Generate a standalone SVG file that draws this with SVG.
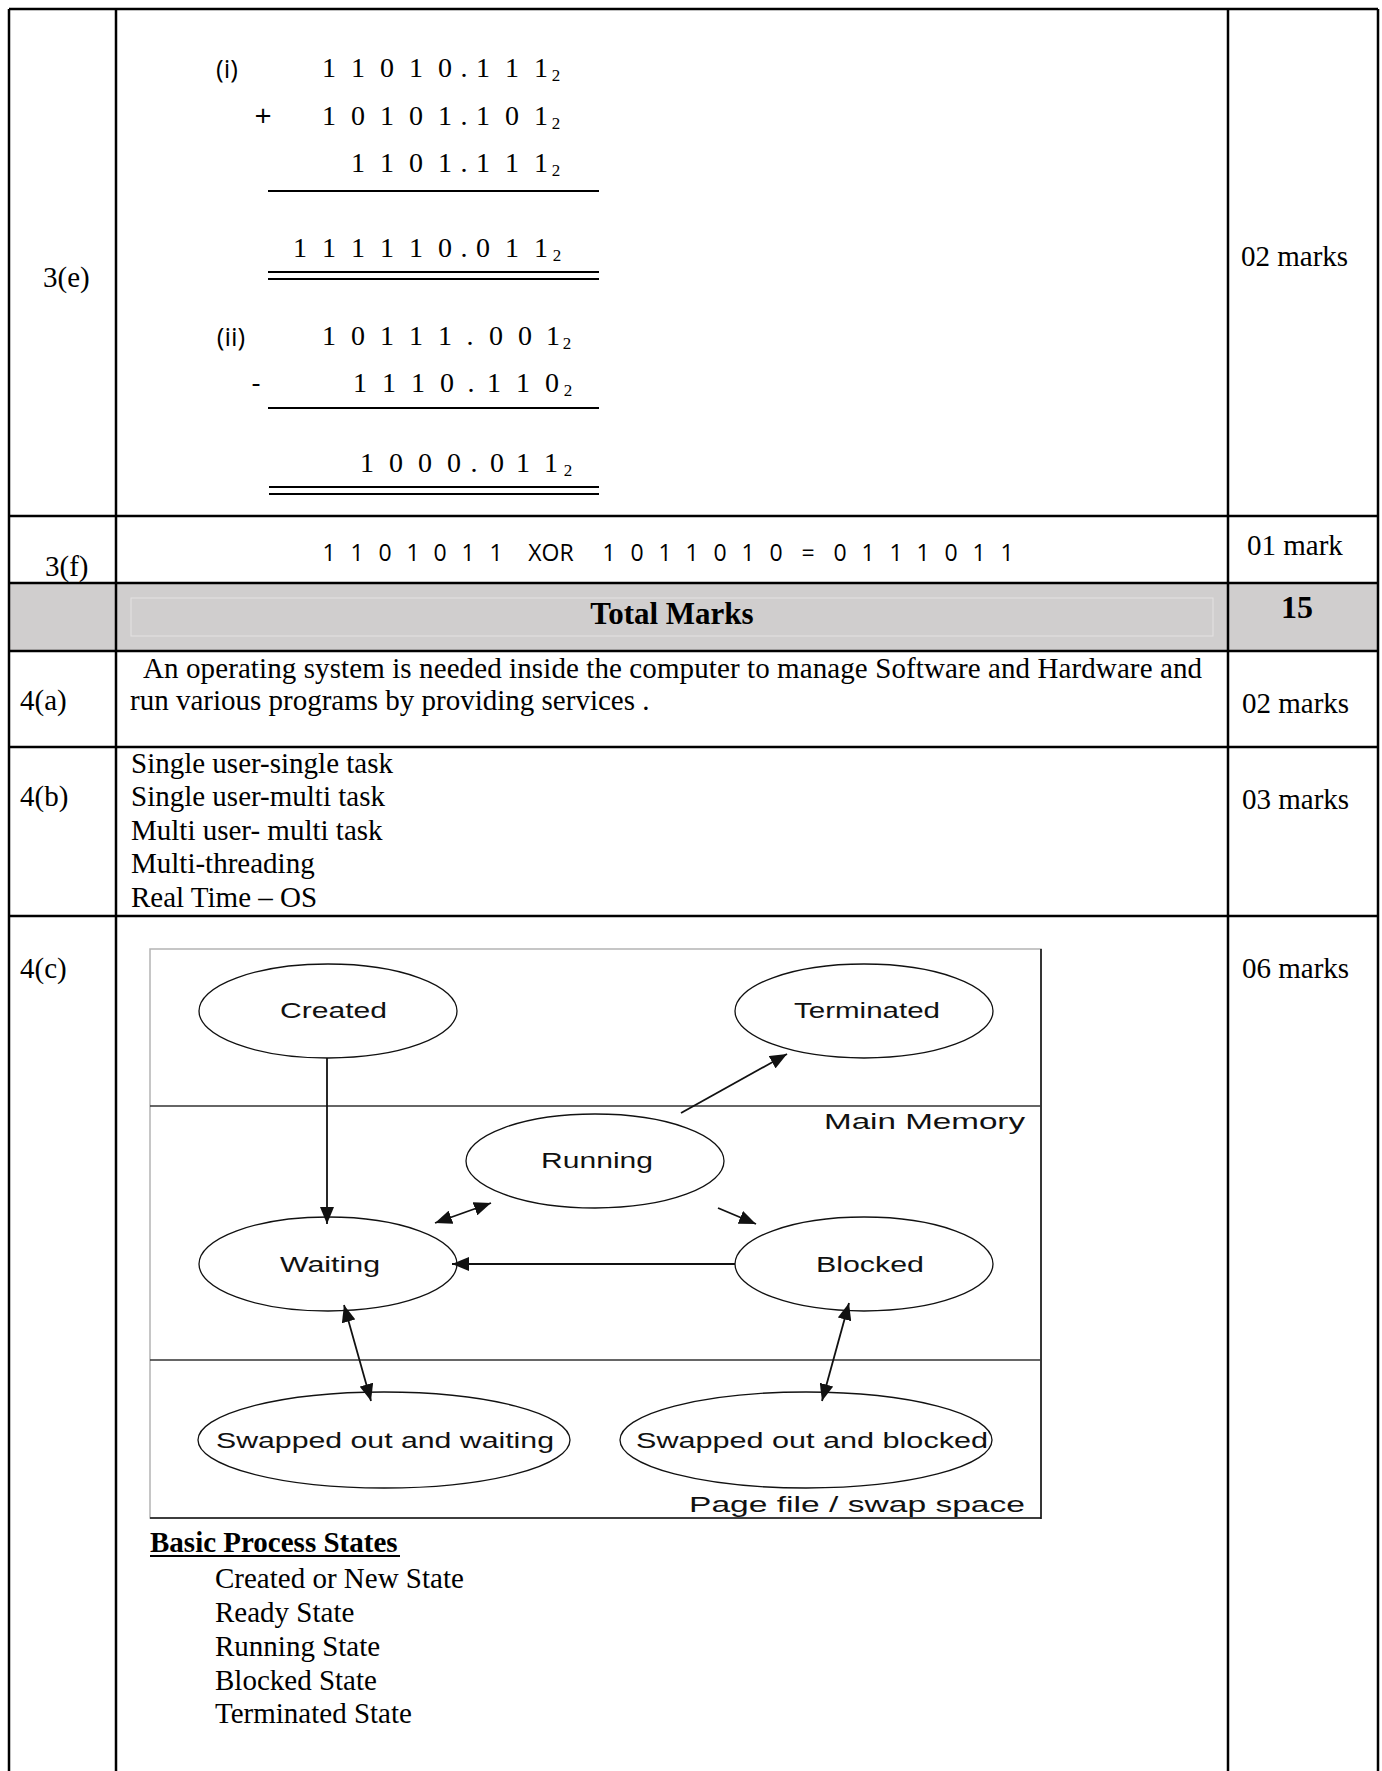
<svg xmlns="http://www.w3.org/2000/svg" width="1382" height="1771" viewBox="0 0 1382 1771">
<style>
.tl{stroke:#000;stroke-width:2.5;fill:none}
.tr{font-family:"Liberation Serif","Times New Roman",serif;font-size:29px;fill:#000}
.trb{font-family:"Liberation Serif","Times New Roman",serif;font-weight:bold;fill:#000}
.num{font-family:"Liberation Serif","Times New Roman",serif;font-size:28px;fill:#000}
.sub{font-family:"Liberation Serif","Times New Roman",serif;font-size:17px;fill:#000}
.cal{font-family:"Open Sans","Liberation Sans",sans-serif;fill:#000}
.rule{stroke:#000;stroke-width:2}
.dg{font-family:"Liberation Sans",Arial,sans-serif;font-size:22px;fill:#111}
.ell{fill:none;stroke:#111;stroke-width:1.3}
.ar{stroke:#111;stroke-width:1.8;fill:none}
</style>
<defs>
<marker id="ah" markerUnits="userSpaceOnUse" markerWidth="18" markerHeight="14" refX="17" refY="7" orient="auto-start-reverse">
<path d="M0,0 L17,7 L0,14 z" fill="#111"/>
</marker>
</defs>
<rect width="1382" height="1771" fill="#fff"/>

<g id="table">
<rect x="9" y="583" width="1369" height="68" fill="#d0cece"/>
<rect x="131" y="598" width="1082" height="38" fill="none" stroke="#e4e2e2" stroke-width="1"/>
<line class="tl" x1="9" y1="9" x2="9" y2="1771"/>
<line class="tl" x1="116" y1="9" x2="116" y2="1771"/>
<line class="tl" x1="1228" y1="9" x2="1228" y2="1771"/>
<line class="tl" x1="1378" y1="9" x2="1378" y2="1771"/>
<line class="tl" x1="9" y1="9" x2="1378" y2="9"/>
<line class="tl" x1="9" y1="516" x2="1378" y2="516"/>
<line class="tl" x1="9" y1="583" x2="1378" y2="583"/>
<line class="tl" x1="9" y1="651" x2="1378" y2="651"/>
<line class="tl" x1="9" y1="747" x2="1378" y2="747"/>
<line class="tl" x1="9" y1="916" x2="1378" y2="916"/>
</g>

<g id="row-3e">
<text class="tr" x="43" y="287">3(e)</text>
<text class="tr" x="1241" y="266">02 marks</text>
<text class="cal" font-size="26" x="227" y="78" text-anchor="middle">(i)</text>
<text class="num" text-anchor="middle" x="329 358 387 416 445 464 483 512 541" y="77">11010.111</text>
<text class="sub" x="556" y="81" text-anchor="middle">2</text>
<text class="cal" font-size="30" x="263" y="126" text-anchor="middle">+</text>
<text class="num" text-anchor="middle" x="329 358 387 416 445 464 483 512 541" y="125">10101.101</text>
<text class="sub" x="556" y="129" text-anchor="middle">2</text>
<text class="num" text-anchor="middle" x="358 387 416 445 464 483 512 541" y="172">1101.111</text>
<text class="sub" x="556" y="176" text-anchor="middle">2</text>
<line class="rule" x1="268" y1="191" x2="599" y2="191"/>
<text class="num" text-anchor="middle" x="300 329 358 387 416 445 464 483 512 541" y="257">111110.011</text>
<text class="sub" x="557" y="261" text-anchor="middle">2</text>
<line class="rule" x1="268" y1="272" x2="599" y2="272"/>
<line class="rule" x1="268" y1="279" x2="599" y2="279"/>
<text class="cal" font-size="26" x="231" y="346" text-anchor="middle">(ii)</text>
<text class="num" text-anchor="middle" x="329 358 387 416 445 470 496 525 553" y="345">10111.001</text>
<text class="sub" x="567" y="349" text-anchor="middle">2</text>
<text class="cal" font-size="28" x="256" y="392" text-anchor="middle">-</text>
<text class="num" text-anchor="middle" x="360 389 418 447 471 494 523 552" y="392">1110.110</text>
<text class="sub" x="568" y="396" text-anchor="middle">2</text>
<line class="rule" x1="268" y1="408" x2="599" y2="408"/>
<text class="num" text-anchor="middle" x="367 396 425 454 474 497 523 551" y="472">1000.011</text>
<text class="sub" x="568" y="476" text-anchor="middle">2</text>
<line class="rule" x1="269" y1="487" x2="599" y2="487"/>
<line class="rule" x1="269" y1="494" x2="599" y2="494"/>
</g>

<g id="row-3f">
<text class="tr" x="45" y="576">3(f)</text>
<text class="cal" font-size="23" text-anchor="middle" x="329 357 385 413 440 468 496" y="561">1101011</text>
<text class="cal" font-size="23" text-anchor="middle" x="551" y="561">XOR</text>
<text class="cal" font-size="23" text-anchor="middle" x="609 637 665 692 720 748 776" y="561">1011010</text>
<text class="cal" font-size="23" text-anchor="middle" x="808" y="561">=</text>
<text class="cal" font-size="23" text-anchor="middle" x="840 868 896 923 951 979 1007" y="561">0111011</text>
<text class="tr" x="1247" y="555">01 mark</text>
</g>

<g id="row-total">
<text class="trb" font-size="31" x="672" y="624" text-anchor="middle">Total Marks</text>
<text class="trb" font-size="32" x="1297" y="618" text-anchor="middle">15</text>
</g>

<g id="row-4a">
<text class="tr" x="20" y="710">4(a)</text>
<text class="tr" x="143" y="678" textLength="1059" lengthAdjust="spacing">An operating system is needed inside the computer to manage Software and Hardware and</text>
<text class="tr" x="130" y="710">run various programs by providing services .</text>
<text class="tr" x="1242" y="713">02 marks</text>
</g>

<g id="row-4b">
<text class="tr" x="20" y="806">4(b)</text>
<text class="tr" x="131" y="773">Single user-single task</text>
<text class="tr" x="131" y="806">Single user-multi task</text>
<text class="tr" x="131" y="840">Multi user- multi task</text>
<text class="tr" x="131" y="873">Multi-threading</text>
<text class="tr" x="131" y="907">Real Time – OS</text>
<text class="tr" x="1242" y="809">03 marks</text>
</g>

<g id="row-4c">
<text class="tr" x="20" y="978">4(c)</text>
<text class="tr" x="1242" y="978">06 marks</text>
</g>

<g id="diagram-frame">
<rect x="150" y="949" width="891" height="569" fill="#fff" stroke="#b4b4b4" stroke-width="1.5"/>
<line x1="1041" y1="949" x2="1041" y2="1519" stroke="#111" stroke-width="1.6"/>
<line x1="150" y1="1518" x2="1041" y2="1518" stroke="#111" stroke-width="1.6"/>
<line x1="150" y1="1106" x2="1041" y2="1106" stroke="#333" stroke-width="1.4"/>
<line x1="150" y1="1360" x2="1041" y2="1360" stroke="#333" stroke-width="1.4"/>
<text class="dg" x="824" y="1129" textLength="201" lengthAdjust="spacingAndGlyphs">Main Memory</text>
<text class="dg" x="689" y="1512" textLength="336" lengthAdjust="spacingAndGlyphs">Page file / swap space</text>
</g>

<g id="connectors">
<line class="ar" x1="327" y1="1058" x2="327" y2="1224" marker-end="url(#ah)"/>
<line class="ar" x1="681" y1="1113" x2="787" y2="1054" marker-end="url(#ah)"/>
<line class="ar" x1="435" y1="1223" x2="491" y2="1203" marker-start="url(#ah)" marker-end="url(#ah)"/>
<line class="ar" x1="718" y1="1208" x2="756" y2="1224" marker-end="url(#ah)"/>
<line class="ar" x1="735" y1="1264" x2="452" y2="1264" marker-end="url(#ah)"/>
<line class="ar" x1="344" y1="1305" x2="371" y2="1401" marker-start="url(#ah)" marker-end="url(#ah)"/>
<line class="ar" x1="849" y1="1303" x2="822" y2="1401" marker-start="url(#ah)" marker-end="url(#ah)"/>
</g>

<g id="node-created">
<ellipse class="ell" cx="328" cy="1011" rx="129" ry="47"/>
<text class="dg" x="280" y="1018" textLength="107" lengthAdjust="spacingAndGlyphs">Created</text>
</g>
<g id="node-terminated">
<ellipse class="ell" cx="864" cy="1011" rx="129" ry="47"/>
<text class="dg" x="794" y="1018" textLength="146" lengthAdjust="spacingAndGlyphs">Terminated</text>
</g>
<g id="node-running">
<ellipse class="ell" cx="595" cy="1161" rx="129" ry="47"/>
<text class="dg" x="541" y="1168" textLength="112" lengthAdjust="spacingAndGlyphs">Running</text>
</g>
<g id="node-waiting">
<ellipse class="ell" cx="328" cy="1264" rx="129" ry="47"/>
<text class="dg" x="280" y="1272" textLength="100" lengthAdjust="spacingAndGlyphs">Waiting</text>
</g>
<g id="node-blocked">
<ellipse class="ell" cx="864" cy="1264" rx="129" ry="47"/>
<text class="dg" x="816" y="1272" textLength="108" lengthAdjust="spacingAndGlyphs">Blocked</text>
</g>
<g id="node-swapped-waiting">
<ellipse class="ell" cx="384" cy="1440" rx="186" ry="48"/>
<text class="dg" x="216" y="1448" textLength="338" lengthAdjust="spacingAndGlyphs">Swapped out and waiting</text>
</g>
<g id="node-swapped-blocked">
<ellipse class="ell" cx="806" cy="1440" rx="186" ry="48"/>
<text class="dg" x="636" y="1448" textLength="352" lengthAdjust="spacingAndGlyphs">Swapped out and blocked</text>
</g>

<g id="process-states">
<text class="trb" font-size="29" x="150" y="1552">Basic Process States</text>
<line x1="150" y1="1556" x2="400" y2="1556" stroke="#000" stroke-width="2"/>
<text class="tr" x="215" y="1588">Created or New State</text>
<text class="tr" x="215" y="1622">Ready State</text>
<text class="tr" x="215" y="1656">Running State</text>
<text class="tr" x="215" y="1690">Blocked State</text>
<text class="tr" x="215" y="1723">Terminated State</text>
</g>
</svg>
